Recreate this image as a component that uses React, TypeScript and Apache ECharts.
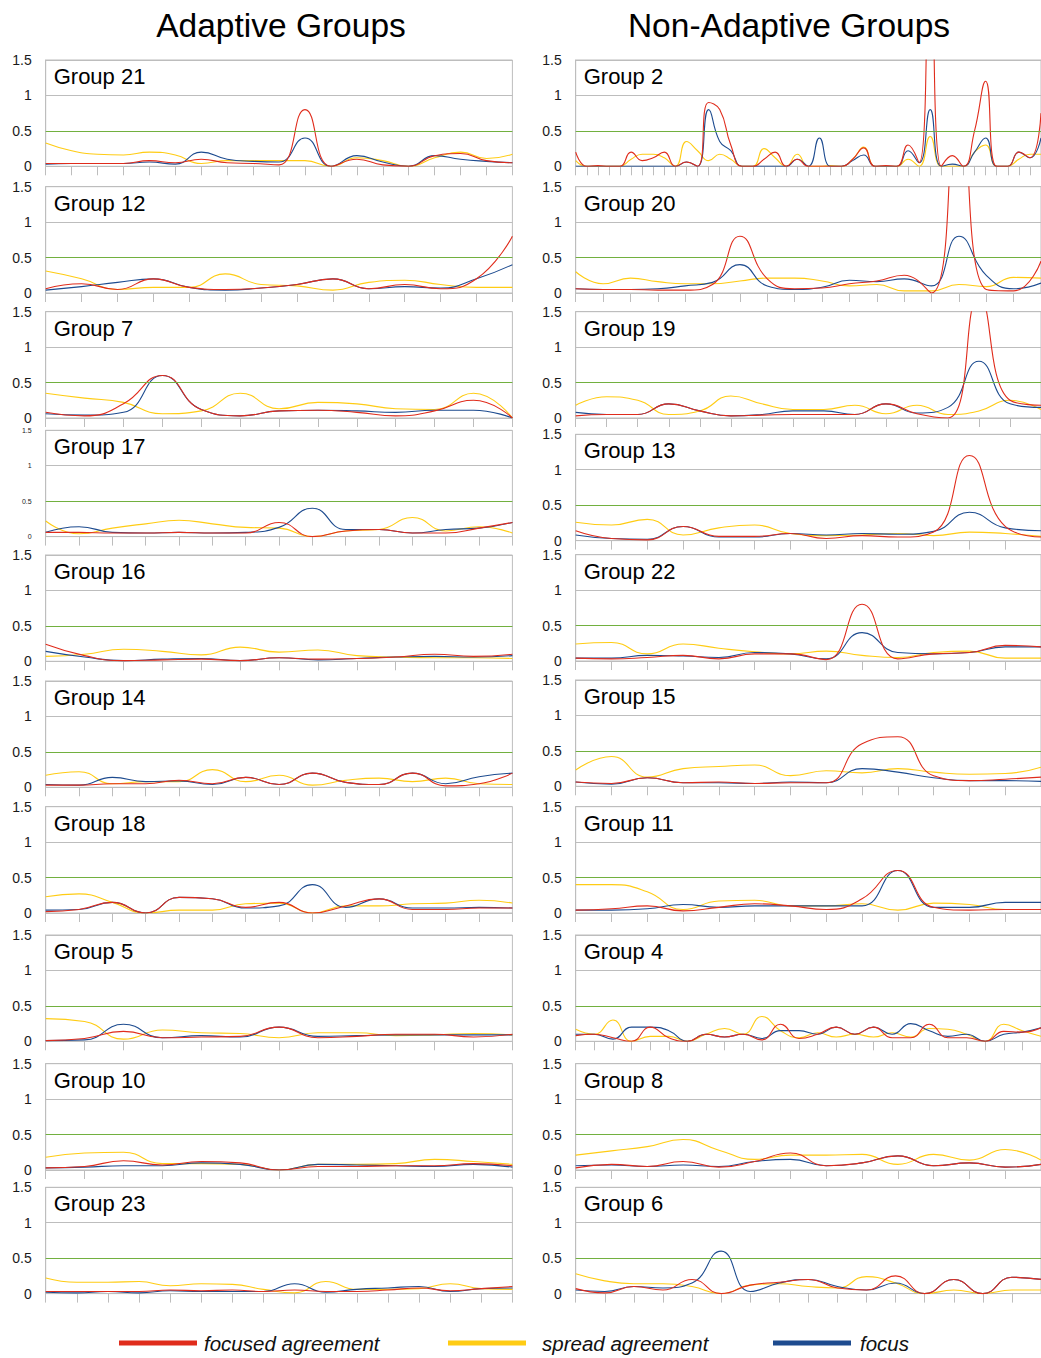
import React, { useEffect, useRef } from 'react';
import * as echarts from 'echarts';

const SERIES_NAMES = ['focused agreement', 'spread agreement', 'focus'];
const HEADERS = ['Adaptive Groups', 'Non-Adaptive Groups'];

// ---------- Adaptive groups ----------
const g21Focused = [0.04, 0.04, 0.04, 0.04, 0.08, 0.05, 0.1, 0.05, 0.04, 0.02, 0.8, 0, 0.1, 0.02, 0, 0.15, 0.18, 0.08, 0.05];
const g21Spread = [0.33, 0.22, 0.17, 0.16, 0.2, 0.16, 0.04, 0.08, 0.08, 0.08, 0.08, 0, 0.12, 0.08, 0, 0.12, 0.2, 0.11, 0.17];
const g21Focus = [0.03, 0.04, 0.04, 0.04, 0.06, 0.03, 0.2, 0.1, 0.07, 0.06, 0.4, 0, 0.15, 0.06, 0, 0.15, 0.1, 0.07, 0.05];

const g12Focused = [0.06, 0.13, 0.05, 0.2, 0.08, 0.05, 0.07, 0.12, 0.2, 0.06, 0.12, 0.06, 0.2, 0.8];
const g12Spread = [0.31, 0.2, 0.05, 0.08, 0.08, 0.27, 0.12, 0.1, 0.04, 0.15, 0.18, 0.12, 0.08, 0.08];
const g12Focus = [0.04, 0.09, 0.15, 0.2, 0.08, 0.04, 0.07, 0.12, 0.2, 0.06, 0.09, 0.07, 0.2, 0.4];

const g7Focused = [0.08, 0.03, 0.2, 0.6, 0.12, 0.03, 0.1, 0.11, 0.08, 0.03, 0.1, 0.25, 0];
const g7Spread = [0.35, 0.28, 0.22, 0.06, 0.1, 0.35, 0.13, 0.22, 0.2, 0.13, 0.12, 0.35, 0];
const g7Focus = [0.06, 0.04, 0.08, 0.6, 0.12, 0.03, 0.1, 0.11, 0.1, 0.08, 0.11, 0.11, 0];

const g17Focused = [0.06, 0.06, 0.05, 0.05, 0.06, 0.05, 0.05, 0.2, 0, 0.08, 0.1, 0.05, 0.05, 0.12, 0.2];
const g17Spread = [0.22, 0.04, 0.12, 0.18, 0.23, 0.18, 0.13, 0.12, 0, 0.08, 0.1, 0.27, 0.08, 0.14, 0.05];
const g17Focus = [0.06, 0.14, 0.06, 0.05, 0.06, 0.05, 0.06, 0.13, 0.4, 0.1, 0.1, 0.05, 0.1, 0.12, 0.2];

const g16Focused = [0.24, 0.08, 0.01, 0.02, 0.03, 0.01, 0.05, 0.03, 0.04, 0.06, 0.1, 0.07, 0.1];
const g16Spread = [0.07, 0.1, 0.17, 0.14, 0.09, 0.2, 0.13, 0.16, 0.08, 0.06, 0.05, 0.05, 0.04];
const g16Focus = [0.14, 0.06, 0.01, 0.03, 0.04, 0.01, 0.05, 0.02, 0.04, 0.06, 0.07, 0.06, 0.08];

const g14Focused = [0.03, 0.03, 0.05, 0.05, 0.1, 0.05, 0.14, 0.04, 0.2, 0.07, 0.04, 0.2, 0.02, 0.05, 0.2];
const g14Spread = [0.17, 0.22, 0.05, 0.08, 0.08, 0.25, 0.08, 0.17, 0.03, 0.1, 0.13, 0.08, 0.13, 0.05, 0.04];
const g14Focus = [0.04, 0.03, 0.14, 0.08, 0.09, 0.04, 0.14, 0.04, 0.2, 0.07, 0.04, 0.2, 0.05, 0.15, 0.2];

const g18Focused = [0.02, 0.05, 0.15, 0, 0.22, 0.2, 0.08, 0.15, 0, 0.1, 0.2, 0.05, 0.05, 0.07, 0.07];
const g18Spread = [0.23, 0.27, 0.15, 0, 0.04, 0.04, 0.13, 0.14, 0, 0.1, 0.1, 0.13, 0.14, 0.18, 0.14];
const g18Focus = [0.04, 0.05, 0.15, 0, 0.22, 0.2, 0.07, 0.1, 0.4, 0.08, 0.2, 0.07, 0.07, 0.08, 0.07];

const g5Focused = [0.01, 0.04, 0.14, 0.05, 0.06, 0.07, 0.2, 0.05, 0.07, 0.1, 0.1, 0.06, 0.1];
const g5Spread = [0.32, 0.28, 0.03, 0.16, 0.12, 0.11, 0.05, 0.12, 0.12, 0.08, 0.09, 0.11, 0.09];
const g5Focus = [0.01, 0.02, 0.24, 0.05, 0.08, 0.06, 0.2, 0.07, 0.08, 0.09, 0.09, 0.09, 0.09];

const g10Focused = [0.03, 0.05, 0.13, 0.07, 0.12, 0.1, 0, 0.05, 0.05, 0.06, 0.06, 0.09, 0.06];
const g10Spread = [0.18, 0.24, 0.25, 0.09, 0.09, 0.08, 0, 0.08, 0.08, 0.09, 0.15, 0.12, 0.08];
const g10Focus = [0.03, 0.04, 0.06, 0.06, 0.1, 0.08, 0, 0.08, 0.07, 0.06, 0.05, 0.08, 0.04];

const g23Focused = [0.03, 0.03, 0.03, 0.03, 0.05, 0.04, 0.05, 0.03, 0.05, 0.03, 0.03, 0.05, 0.08, 0.04, 0.07, 0.1];
const g23Spread = [0.22, 0.16, 0.16, 0.17, 0.11, 0.14, 0.13, 0.06, 0.01, 0.17, 0.06, 0.06, 0.07, 0.14, 0.07, 0.06];
const g23Focus = [0.02, 0.01, 0.03, 0.01, 0.04, 0.03, 0.03, 0.03, 0.14, 0.02, 0.06, 0.08, 0.1, 0.03, 0.07, 0.08];

// ---------- Non-adaptive groups ----------
const g2Focused = [0.2, 0, 0.01, 0, 0, 0.2, 0.08, 0.12, 0.2, 0, 0.06, 0, 0.9, 0.8, 0.3, 0, 0, 0.1, 0.2, 0, 0.1, 0, 0, 0, 0, 0.1, 0.26, 0, 0.01, 0, 0.3, 0.05, 3.5, 0, 0.15, 0, 0.5, 1.2, 0, 0, 0.2, 0.12, 0.75];
const g2Spread = [0.08, 0, 0, 0, 0, 0.1, 0.17, 0.17, 0.12, 0, 0.35, 0.22, 0.08, 0.17, 0.1, 0, 0, 0.25, 0.12, 0, 0.17, 0, 0, 0.01, 0, 0.1, 0.27, 0, 0, 0, 0.1, 0, 0.42, 0, 0, 0, 0.2, 0.3, 0, 0, 0.1, 0.17, 0.17];
const g2Focus = [0, 0, 0, 0, 0, 0, 0, 0, 0, 0, 0.06, 0, 0.8, 0.35, 0.22, 0, 0, 0, 0, 0, 0.1, 0, 0.4, 0, 0, 0.08, 0.16, 0, 0, 0, 0.22, 0.05, 0.8, 0, 0.03, 0, 0.2, 0.4, 0, 0, 0.2, 0.12, 0.4];

const g20Focused = [0.06, 0.05, 0.05, 0.04, 0.04, 0.12, 0.8, 0.2, 0.06, 0.07, 0.13, 0.17, 0.25, 0, 3.0, 0.05, 0.03, 0.45];
const g20Spread = [0.3, 0.13, 0.21, 0.16, 0.13, 0.13, 0.17, 0.21, 0.21, 0.17, 0.1, 0.12, 0.03, 0.03, 0.12, 0.09, 0.22, 0.21];
const g20Focus = [0.06, 0.05, 0.05, 0.06, 0.1, 0.15, 0.4, 0.1, 0.05, 0.08, 0.18, 0.16, 0.2, 0.1, 0.8, 0.25, 0.06, 0.14];

const g19Focused = [0.03, 0.05, 0.05, 0.2, 0.1, 0.03, 0.04, 0.05, 0.05, 0.05, 0.2, 0.06, 0, 1.7, 0.25, 0.18];
const g19Spread = [0.18, 0.3, 0.25, 0.05, 0.1, 0.31, 0.2, 0.12, 0.12, 0.18, 0.06, 0.18, 0.05, 0.1, 0.25, 0.12];
const g19Focus = [0.08, 0.05, 0.05, 0.2, 0.1, 0.03, 0.05, 0.1, 0.1, 0.05, 0.2, 0.07, 0.15, 0.8, 0.2, 0.15];

const g13Focused = [0.14, 0.03, 0.01, 0.2, 0.06, 0.06, 0.1, 0.03, 0.07, 0.05, 0.12, 1.2, 0.2, 0.05];
const g13Spread = [0.26, 0.22, 0.3, 0.08, 0.18, 0.22, 0.1, 0.07, 0.08, 0.1, 0.07, 0.12, 0.1, 0.06];
const g13Focus = [0.08, 0.03, 0.02, 0.2, 0.05, 0.05, 0.1, 0.08, 0.1, 0.09, 0.13, 0.4, 0.18, 0.14];

const g22Focused = [0.04, 0.03, 0.05, 0.08, 0.03, 0.1, 0.1, 0.02, 0.8, 0.03, 0.1, 0.12, 0.22, 0.2];
const g22Spread = [0.24, 0.26, 0.1, 0.24, 0.18, 0.13, 0.1, 0.14, 0.08, 0.05, 0.12, 0.14, 0.04, 0.04];
const g22Focus = [0.04, 0.04, 0.08, 0.07, 0.05, 0.12, 0.1, 0.03, 0.4, 0.12, 0.1, 0.12, 0.2, 0.2];

const g15Focused = [0.06, 0.04, 0.12, 0.05, 0.06, 0.04, 0.05, 0.05, 0.6, 0.7, 0.15, 0.08, 0.1, 0.13];
const g15Spread = [0.23, 0.42, 0.13, 0.25, 0.28, 0.3, 0.15, 0.22, 0.19, 0.25, 0.2, 0.17, 0.18, 0.27];
const g15Focus = [0.06, 0.03, 0.12, 0.05, 0.05, 0.04, 0.06, 0.05, 0.25, 0.2, 0.12, 0.08, 0.08, 0.07];

const g11Focused = [0.04, 0.06, 0.1, 0.03, 0.08, 0.13, 0.1, 0.05, 0.2, 0.6, 0.08, 0.04, 0.05, 0.05];
const g11Spread = [0.4, 0.4, 0.3, 0.05, 0.17, 0.18, 0.1, 0.1, 0.13, 0.04, 0.14, 0.12, 0.05, 0.05];
const g11Focus = [0.04, 0.04, 0.06, 0.12, 0.08, 0.1, 0.1, 0.1, 0.1, 0.6, 0.08, 0.08, 0.15, 0.15];

const g4Focused = [0.08, 0.1, 0.05, 0, 0.2, 0.05, 0, 0.1, 0.06, 0.1, 0.02, 0.24, 0.04, 0.1, 0.2, 0.1, 0.2, 0.05, 0.05, 0.24, 0.05, 0.05, 0, 0.14, 0.13, 0.19];
const g4Spread = [0.17, 0.1, 0.3, 0, 0.07, 0.07, 0, 0.1, 0.18, 0.1, 0.35, 0.15, 0.05, 0.12, 0.06, 0.1, 0.06, 0.12, 0.06, 0.18, 0.17, 0.1, 0, 0.24, 0.15, 0.07];
const g4Focus = [0.1, 0.1, 0.03, 0.2, 0.2, 0.15, 0, 0.1, 0.06, 0.1, 0.04, 0.15, 0.15, 0.1, 0.2, 0.1, 0.2, 0.1, 0.25, 0.15, 0.07, 0.1, 0, 0.1, 0.13, 0.19];

const g8Focused = [0.03, 0.08, 0.05, 0.12, 0.04, 0.12, 0.24, 0.06, 0.1, 0.2, 0.06, 0.1, 0.04, 0.08];
const g8Spread = [0.21, 0.27, 0.33, 0.43, 0.28, 0.15, 0.21, 0.21, 0.22, 0.08, 0.22, 0.14, 0.29, 0.14];
const g8Focus = [0.06, 0.07, 0.05, 0.07, 0.05, 0.12, 0.15, 0.06, 0.1, 0.2, 0.06, 0.1, 0.04, 0.08];

const g6Focused = [0.07, 0.01, 0.1, 0.05, 0.2, 0, 0.12, 0.16, 0.2, 0.08, 0.05, 0.25, 0, 0.2, 0, 0.23, 0.2];
const g6Spread = [0.28, 0.18, 0.14, 0.14, 0.1, 0, 0.12, 0.14, 0.1, 0.08, 0.24, 0.15, 0, 0.05, 0, 0.05, 0.05];
const g6Focus = [0.05, 0.03, 0.1, 0.08, 0.15, 0.6, 0.03, 0.15, 0.2, 0.1, 0.05, 0.15, 0, 0.2, 0, 0.23, 0.2];

type Panel = {
  title: string;
  col: number;
  row: number;
  focused: number[];
  spread: number[];
  focus: number[];
  small?: boolean;
};

const PANELS: Panel[] = [
  { title: 'Group 21', col: 0, row: 0, focused: g21Focused, spread: g21Spread, focus: g21Focus },
  { title: 'Group 12', col: 0, row: 1, focused: g12Focused, spread: g12Spread, focus: g12Focus },
  { title: 'Group 7', col: 0, row: 2, focused: g7Focused, spread: g7Spread, focus: g7Focus },
  { title: 'Group 17', col: 0, row: 3, focused: g17Focused, spread: g17Spread, focus: g17Focus, small: true },
  { title: 'Group 16', col: 0, row: 4, focused: g16Focused, spread: g16Spread, focus: g16Focus },
  { title: 'Group 14', col: 0, row: 5, focused: g14Focused, spread: g14Spread, focus: g14Focus },
  { title: 'Group 18', col: 0, row: 6, focused: g18Focused, spread: g18Spread, focus: g18Focus },
  { title: 'Group 5', col: 0, row: 7, focused: g5Focused, spread: g5Spread, focus: g5Focus },
  { title: 'Group 10', col: 0, row: 8, focused: g10Focused, spread: g10Spread, focus: g10Focus },
  { title: 'Group 23', col: 0, row: 9, focused: g23Focused, spread: g23Spread, focus: g23Focus },
  { title: 'Group 2', col: 1, row: 0, focused: g2Focused, spread: g2Spread, focus: g2Focus },
  { title: 'Group 20', col: 1, row: 1, focused: g20Focused, spread: g20Spread, focus: g20Focus },
  { title: 'Group 19', col: 1, row: 2, focused: g19Focused, spread: g19Spread, focus: g19Focus },
  { title: 'Group 13', col: 1, row: 3, focused: g13Focused, spread: g13Spread, focus: g13Focus },
  { title: 'Group 22', col: 1, row: 4, focused: g22Focused, spread: g22Spread, focus: g22Focus },
  { title: 'Group 15', col: 1, row: 5, focused: g15Focused, spread: g15Spread, focus: g15Focus },
  { title: 'Group 11', col: 1, row: 6, focused: g11Focused, spread: g11Spread, focus: g11Focus },
  { title: 'Group 4', col: 1, row: 7, focused: g4Focused, spread: g4Spread, focus: g4Focus },
  { title: 'Group 8', col: 1, row: 8, focused: g8Focused, spread: g8Spread, focus: g8Focus },
  { title: 'Group 6', col: 1, row: 9, focused: g6Focused, spread: g6Spread, focus: g6Focus },
];

// layout
const COL_LEFT = [45.7, 575.7];
const PLOT_W = [466.7, 467.5];
const ROW_TOP = [
  [60, 186.7, 311.7, 430.3, 555, 681, 806.7, 935, 1063.7, 1187.3],
  [60, 186.7, 311.7, 434.3, 554.7, 680, 806.7, 935, 1063.7, 1187.3],
];
const PLOT_H = 106.3;
const HEADER_X = [281, 789];
const LEGEND_LEFT = [119, 448, 773];
const LEGEND_TEXT_PAD = [2, 11, 4];

const COLORS = { focused: '#e02c1c', spread: '#ffcc14', focus: '#1d4b8f' };
const GRID_GRAY = '#bdbdbd';
const GREEN = '#72b03f';
const FONT = '"Liberation Sans", Arial, Helvetica, sans-serif';

function buildOption() {
  const grid: any[] = [];
  const xAxis: any[] = [];
  const yAxis: any[] = [];
  const series: any[] = [];
  const graphic: any[] = [];

  PANELS.forEach((p, k) => {
    const left = COL_LEFT[p.col];
    const top = ROW_TOP[p.col][p.row];
    grid.push({
      left,
      top,
      width: PLOT_W[p.col],
      height: PLOT_H,
      show: true,
      borderColor: GRID_GRAY,
      borderWidth: 1,
      backgroundColor: 'transparent',
    });
    xAxis.push({
      type: 'category',
      gridIndex: k,
      boundaryGap: false,
      data: p.focused.map((_, i) => String(i + 1)),
      axisLine: { show: true, lineStyle: { color: GRID_GRAY } },
      axisTick: { show: true, interval: 0, length: 9, lineStyle: { color: GRID_GRAY } },
      axisLabel: { show: false },
      splitLine: { show: false },
    });
    yAxis.push({
      type: 'value',
      gridIndex: k,
      min: 0,
      max: 1.5,
      interval: 0.5,
      axisLine: { show: true, lineStyle: { color: GRID_GRAY } },
      axisTick: { show: false },
      axisLabel: {
        show: true,
        fontSize: p.small ? 7 : 14,
        color: '#1a1a1a',
        margin: 14,
        fontFamily: FONT,
      },
      splitLine: { show: true, lineStyle: { color: GRID_GRAY, width: 1 } },
    });
    const common = {
      type: 'line',
      xAxisIndex: k,
      yAxisIndex: k,
      smooth: 0.5,
      symbol: 'none',
      showSymbol: false,
      clip: true,
      silent: true,
    };
    series.push({
      ...common,
      name: SERIES_NAMES[1],
      data: p.spread,
      color: COLORS.spread,
      lineStyle: { width: 1.1, color: COLORS.spread },
      markLine: {
        silent: true,
        symbol: 'none',
        label: { show: false },
        lineStyle: { color: GREEN, width: 1.2, type: 'solid' },
        data: [{ yAxis: 0.5 }],
      },
    });
    series.push({
      ...common,
      name: SERIES_NAMES[2],
      data: p.focus,
      color: COLORS.focus,
      lineStyle: { width: 1.1, color: COLORS.focus },
    });
    series.push({
      ...common,
      name: SERIES_NAMES[0],
      data: p.focused,
      color: COLORS.focused,
      lineStyle: { width: 1.1, color: COLORS.focused },
    });
    graphic.push({
      type: 'text',
      x: left + 8,
      y: top + 16.3,
      z: 100,
      style: {
        text: p.title,
        fontSize: 22,
        fontFamily: FONT,
        fill: '#000',
        textAlign: 'left',
        align: 'left',
        textVerticalAlign: 'middle',
        verticalAlign: 'middle',
      },
    });
  });

  HEADERS.forEach((h, i) => {
    graphic.push({
      type: 'text',
      x: HEADER_X[i],
      y: 25,
      style: {
        text: h,
        fontSize: 33.5,
        fontFamily: FONT,
        fill: '#000',
        textAlign: 'center',
        align: 'center',
        textVerticalAlign: 'middle',
        verticalAlign: 'middle',
      },
    });
  });

  const legend = SERIES_NAMES.map((name, i) => ({
    data: [name],
    left: LEGEND_LEFT[i],
    top: 1333,
    padding: 0,
    itemWidth: 78,
    itemHeight: 5,
    icon: 'rect',
    selectedMode: false,
    textStyle: {
      fontSize: 20.5,
      fontStyle: 'italic',
      color: '#111',
      fontFamily: FONT,
      padding: [0, 0, 0, LEGEND_TEXT_PAD[i]],
    },
  }));

  return {
    animation: false,
    backgroundColor: '#ffffff',
    textStyle: { fontFamily: FONT },
    grid,
    xAxis,
    yAxis,
    series,
    legend,
    graphic,
  };
}

export default function App() {
  const ref = useRef<HTMLDivElement>(null);
  useEffect(() => {
    if (!ref.current) return;
    const chart = echarts.init(ref.current, undefined, { renderer: 'svg' });
    chart.setOption(buildOption() as any);
    return () => chart.dispose();
  }, []);
  return (
    <div
      ref={ref}
      style={{ position: 'absolute', left: 0, top: 0, width: 1041, height: 1358, background: '#fff' }}
    />
  );
}
